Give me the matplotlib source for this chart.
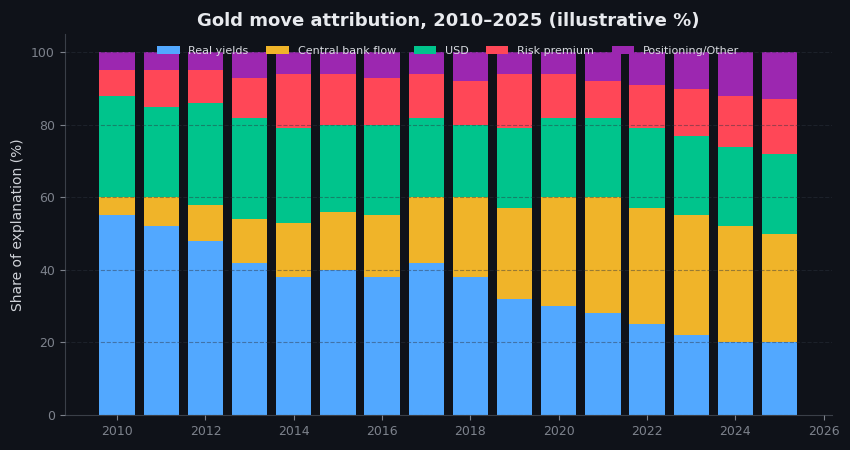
import matplotlib.pyplot as plt
import numpy as np

years = np.arange(2010, 2026)
real_yields = [55, 52, 48, 42, 38, 40, 38, 42, 38, 32, 30, 28, 25, 22, 20, 20]
central_bank = [5, 8, 10, 12, 15, 16, 17, 18, 22, 25, 30, 32, 32, 33, 32, 30]
usd = [28, 25, 28, 28, 26, 24, 25, 22, 20, 22, 22, 22, 22, 22, 22, 22]
risk_premium = [7, 10, 9, 11, 15, 14, 13, 12, 12, 15, 12, 10, 12, 13, 14, 15]
positioning = [100 - a - b - c - d for a, b, c, d in
               zip(real_yields, central_bank, usd, risk_premium)]

labels = ["Real yields", "Central bank flow", "USD", "Risk premium", "Positioning/Other"]
colors = ["#52a8ff", "#f0b429", "#00c48c", "#ff4757", "#9c27b0"]
series = [real_yields, central_bank, usd, risk_premium, positioning]

bg = "#0f1219"
fig, ax = plt.subplots(figsize=(8.5, 4.5), dpi=100)
fig.patch.set_facecolor(bg)
ax.set_facecolor(bg)
fig.subplots_adjust(left=0.076, right=0.979, bottom=0.078, top=0.924)

bottom = np.zeros(len(years))
for vals, lab, col in zip(series, labels, colors):
    ax.bar(years, vals, width=0.8, bottom=bottom, color=col, label=lab)
    bottom += np.array(vals)

ax.set_title("Gold move attribution, 2010\u20132025 (illustrative %)",
             color="#e8eaee", fontsize=13, fontweight="bold")
ax.set_ylabel("Share of explanation (%)", color="#d0d3d9", fontsize=10)
ax.set_xticks(np.arange(2010, 2027, 2))
ax.tick_params(colors="#7d828c", labelsize=9)
for s in ["top", "right"]:
    ax.spines[s].set_visible(False)
for s in ["left", "bottom"]:
    ax.spines[s].set_color("#3a3f48")
ax.grid(axis="y", linestyle="--", color="#2e3440", alpha=0.45, linewidth=0.8)
ax.set_axisbelow(False)

leg = ax.legend(loc="upper center", ncol=5, frameon=False, fontsize=8,
                bbox_to_anchor=(0.5, 0.995), handlelength=2, columnspacing=1.6)
for t in leg.get_texts():
    t.set_color("#d8dbe0")

plt.savefig("out.png", facecolor=bg)
